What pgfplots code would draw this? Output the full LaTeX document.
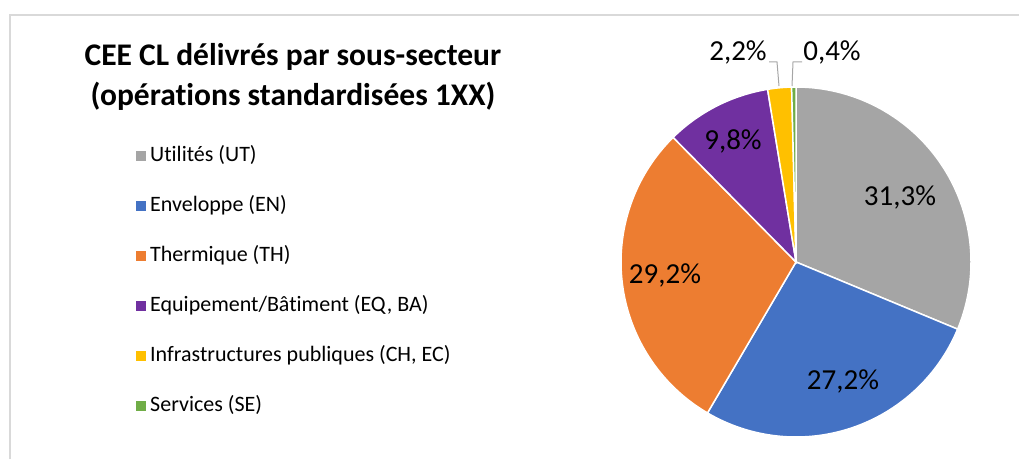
\documentclass[border=0pt]{standalone}
\usepackage{pgfplots}
\pgfplotsset{compat=1.18}
\usepackage{fontspec}
\setmainfont[Ligatures=NoCommon]{Carlito}
\definecolor{cUT}{HTML}{A5A5A5}
\definecolor{cEN}{HTML}{4472C4}
\definecolor{cTH}{HTML}{ED7D31}
\definecolor{cEQ}{HTML}{7030A0}
\definecolor{cIN}{HTML}{FFC000}
\definecolor{cSE}{HTML}{70AD47}
\def\total{100.1}
\xdef\cum{90}
\newcommand{\pieslice}[2]{% value, color
  \pgfmathsetmacro\sa{\cum}%
  \pgfmathsetmacro\ea{\cum-#1*360/\total}%
  \xdef\cum{\ea}%
  \edef\tmp{\noexpand\addplot[fill=#2, draw=white, line width=1.5pt, domain=\sa:\ea, samples=90]
    ({796+175*cos(x)},{197+175*sin(x)}) -- (axis cs:796,197) -- cycle;}%
  \tmp}
\begin{document}
\begin{tikzpicture}
\useasboundingbox (0,0) rectangle (1019pt,459pt);
\begin{axis}[
  at={(0,0)}, anchor=south west,
  scale only axis, width=1019pt, height=459pt,
  xmin=0, xmax=1019, ymin=0, ymax=459,
  hide axis, clip=false,
  legend style={at={(axis cs:133,314)}, anchor=north west, draw=none, fill=none,
    font=\fontsize{22}{24}\selectfont, row sep=32pt,
    nodes={inner sep=0pt, text height=14pt, text depth=4pt}},
  legend cell align=left,
  legend image code/.code={\fill[#1, draw=none] (0pt,-5pt) rectangle (10pt,5pt);},
]
\draw[black!15, line width=1.2pt] (axis cs:10,0) -- (axis cs:10,444) -- (axis cs:1019,444);
\pieslice{31.3}{cUT}
\addlegendentry{\hspace{4pt}Utilités (UT)}
\pieslice{27.2}{cEN}
\addlegendentry{\hspace{4pt}Enveloppe (EN)}
\pieslice{29.2}{cTH}
\addlegendentry{\hspace{4pt}Thermique (TH)}
\pieslice{9.8}{cEQ}
\addlegendentry{\hspace{4pt}Equipement/Bâtiment (EQ, BA)}
\pieslice{2.2}{cIN}
\addlegendentry{\hspace{4pt}Infrastructures publiques (CH, EC)}
\pieslice{0.4}{cSE}
\addlegendentry{\hspace{4pt}Services (SE)}
\addplot[black!35, line width=1pt, forget plot] coordinates {(769,397) (777,397) (779,373)};
\addplot[black!35, line width=1pt, forget plot] coordinates {(792,373) (793,397) (802,397)};
\node[font=\bfseries\fontsize{31.5}{40}\selectfont, align=center] at (axis cs:293,382)
  {CEE CL délivrés par sous-secteur\\(opérations standardisées 1XX)};
\begin{scope}[every node/.style={font=\fontsize{29}{30}\selectfont}]
\node at (axis cs:900,262) {31,3\%};
\node at (axis cs:843,78) {27,2\%};
\node at (axis cs:665,184) {29,2\%};
\node at (axis cs:733,318) {9,8\%};
\node at (axis cs:738,407) {2,2\%};
\node at (axis cs:832,407) {0,4\%};
\end{scope}
\end{axis}
\end{tikzpicture}
\end{document}
